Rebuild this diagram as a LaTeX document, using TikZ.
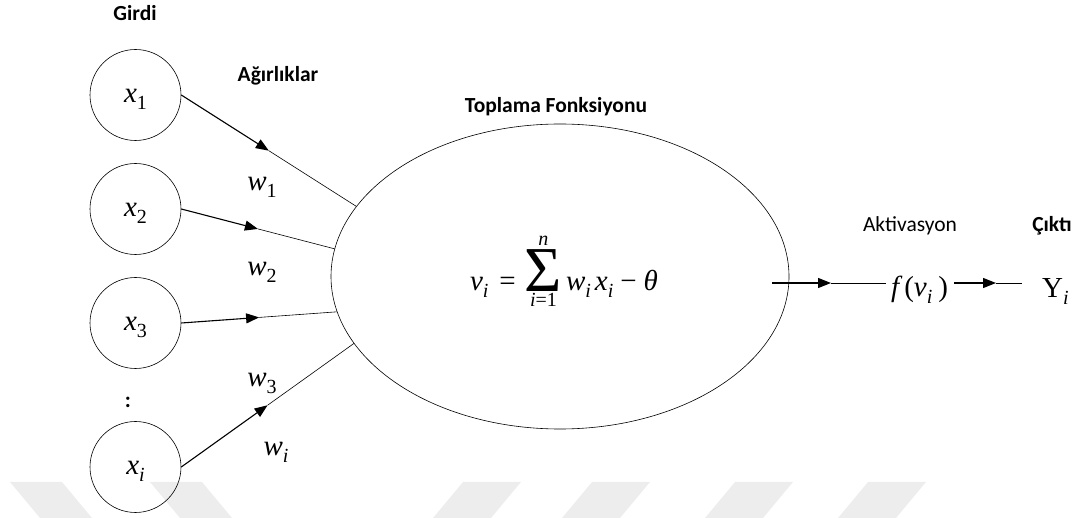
\documentclass[tikz,border=0pt]{standalone}
\usepackage{fontspec}
\setmainfont{Carlito}
\newfontfamily\tms{Liberation Serif}
\usetikzlibrary{arrows.meta,calc,shapes.geometric}
\newcommand\mfs{\fontsize{29}{29}\selectfont}
\newcommand\sfs{\fontsize{20}{20}\selectfont}
\newcommand\sub[1]{\raisebox{-7pt}{\tms\sfs #1}}
\newcommand\mv[2]{{\tms\mfs\itshape #1}\sub{#2}}
\newcommand\inc[2]{\raisebox{-8pt}[0pt][0pt]{\mv{#1}{#2}}}
\tikzset{
  neuron/.style={draw, circle, minimum size=91pt, inner sep=0pt, line width=0.6pt},
  lbl/.style={font=\fontsize{21.5}{21.5}\selectfont\bfseries, inner sep=0pt},
  lblr/.style={font=\fontsize{21.5}{21.5}\selectfont, inner sep=0pt},
  sym/.style={inner sep=0pt},
  inarrow/.style={line width=1.1pt, -{Triangle[length=13pt,width=10pt]}},
  thinline/.style={line width=0.6pt},
  wm/.style={fill=black!7, draw=none}
}
\begin{document}
\begin{tikzpicture}[x=1pt,y=-1pt]
\useasboundingbox (0,0) rectangle (1077,518);
% faint watermark
\foreach \a in {10,150}{\fill[wm] (\a,482) -- (\a+52,482) -- (\a+82,518) -- (\a+30,518) -- cycle;}
\foreach \a in {463,592,735,868}{\fill[wm] (\a,482) -- (\a+58,482) -- (\a+28,518) -- (\a-30,518) -- cycle;}

% labels
\node[lbl] (girdi) at (135,13) {Girdi};
\node[lbl] (agir) at (278,76) {Ağırlıklar};
\node[lbl] (topl) at (556,107) {Toplama Fonksiyonu};
\node[lblr] (akt) at (910,226) {Aktivasyon};
\node[lbl] (cikti) at (1052,226) {Çıktı};
\node[font=\fontsize{22}{22}\selectfont\bfseries, inner sep=0pt] (dots) at (128,402) {:};

% inputs
\node[neuron] (x1) at (135.5,95) {\inc{x}{1}};
\node[neuron] (x2) at (135.5,209) {\inc{x}{2}};
\node[neuron] (x3) at (135.5,323) {\inc{x}{3}};
\node[neuron] (xi) at (135.5,467) {\inc{x}{\itshape i}};

% summation
\node[draw, ellipse, minimum width=458pt, minimum height=305pt, inner sep=0pt, line width=0.6pt] (E) at (560,276.5) {};
\node[sym, anchor=base] (form) at (564,291) {{\tms\mfs\itshape v\sub{\itshape i}\upshape\hspace{11pt}=\hspace{9pt}}$\mathop{\raisebox{-1pt}{\tms\fontsize{64}{64}\selectfont Σ}}\limits_{\hbox{\raisebox{-3pt}{\tms\sfs\itshape i\upshape =1}}}^{\hbox{\raisebox{3pt}{\tms\sfs\itshape n}}}${\tms\mfs\itshape\hspace{4pt}w\sub{\itshape i}\hspace{4pt}x\sub{\itshape i}\upshape\hspace{7pt}−\hspace{7pt}\itshape θ}};

% weights
\node[sym] (w1) at (262,187) {\mv{w}{1}};
\node[sym] (w2) at (262,272) {\mv{w}{2}};
\node[sym] (w3) at (262,383) {\mv{w}{3}};
\node[sym] (wi) at (276,452) {\mv{w}{\itshape i}};

% connectors
\coordinate (e1) at (E.161.4);
\coordinate (e2) at (E.173.3);
\coordinate (e3) at (E.189.9);
\coordinate (ei) at (E.198.5);
\coordinate (m1) at ($(x1.east)!0.5!(e1)$);
\coordinate (m2) at ($(x2.east)!0.5!(e2)$);
\coordinate (m3) at ($(x3.east)!0.5!(e3)$);
\coordinate (mi) at ($(xi.east)!0.5!(ei)$);
\draw[inarrow] (x1.east) -- (m1);
\draw[thinline] (m1) -- (e1);
\draw[inarrow] (x2.east) -- (m2);
\draw[thinline] (m2) -- (e2);
\draw[inarrow] (x3.east) -- (m3);
\draw[thinline] (m3) -- (e3);
\draw[inarrow] (xi.east) -- (mi);
\draw[thinline] (mi) -- (ei);

% output
\node[sym, anchor=base west] (f) at (886,297) {{\tms\mfs\hspace{5pt}\itshape f\upshape\hspace{5pt}(\itshape v\sub{\itshape i}\upshape\hspace{6pt})}};
\node[sym, anchor=base west] (Y) at (1042,298) {{\tms\mfs Υ}\sub{\itshape i}};
\coordinate (o1) at (772,283);
\coordinate (o2) at (831,283);
\coordinate (o3) at (996,283);
\coordinate (o4) at (1022,283);
\draw[inarrow] (o1) -- (o2);
\draw[thinline] (o2) -- (f.west |- o2);
\draw[inarrow] (f.east |- o3) ++(6,0) coordinate (o5) (o5) -- (o3);
\draw[thinline] (o3) -- (o4);
\end{tikzpicture}
\end{document}
